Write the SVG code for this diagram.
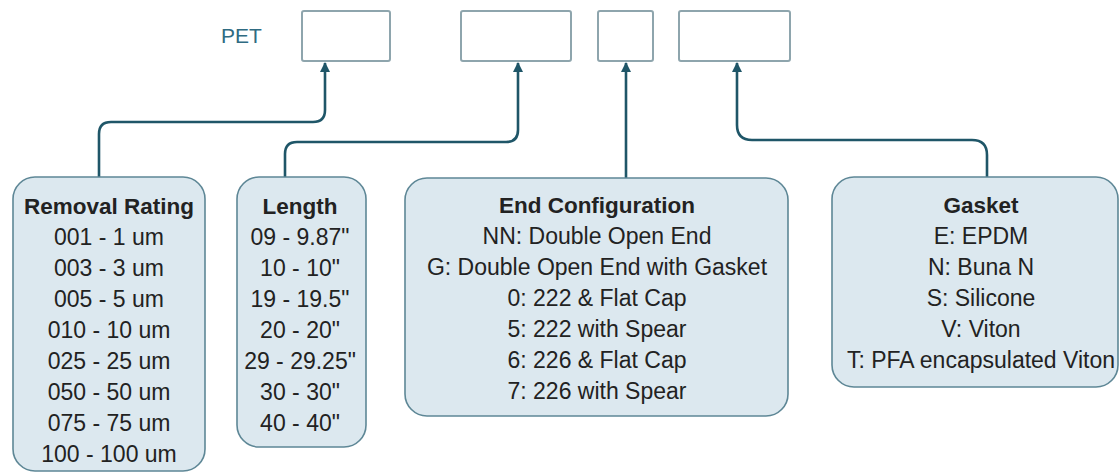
<svg xmlns="http://www.w3.org/2000/svg" width="1120" height="473" viewBox="0 0 1120 473">
<style>
.slot{fill:#ffffff;stroke:#8ea5ad;stroke-width:2}
.node{fill:#dce8ef;stroke:#5e8796;stroke-width:1.6}
.t{font-family:"Liberation Sans",Arial,sans-serif;font-size:23px;fill:#222;text-anchor:middle}
.h{font-weight:bold;font-size:22.5px}
.pet{font-family:"Liberation Sans",Arial,sans-serif;font-size:21px;fill:#2f6b82}
.conn{fill:none;stroke:#1f5668;stroke-width:2.6;marker-end:url(#ah)}
</style>
<defs>
<marker id="ah" viewBox="0 0 10 10" refX="9" refY="5" markerWidth="10" markerHeight="10" markerUnits="userSpaceOnUse" orient="auto">
<path d="M0,0 L10,5 L0,10 z" fill="#1f5668"/>
</marker>
</defs>
<rect width="1120" height="473" fill="#ffffff"/>
<g id="code">
<text class="pet" x="221" y="43">PET</text>
<rect class="slot" x="302" y="11" width="88" height="50" rx="2"/>
<rect class="slot" x="461" y="11" width="110" height="50" rx="2"/>
<rect class="slot" x="598" y="11" width="55" height="50" rx="2"/>
<rect class="slot" x="679" y="11" width="111" height="50" rx="2"/>
</g>
<g id="connectors">
<path class="conn" d="M99,177 V134 Q99,122 111,122 H313 Q325,122 325,110 V63"/>
<path class="conn" d="M285,177 V154 Q285,142 297,142 H506 Q518,142 518,130 V63"/>
<path class="conn" d="M626,178 V63"/>
<path class="conn" d="M987,177 V155 Q987,140 972,140 H752 Q737,140 737,125 V63"/>
</g>
<g id="removal-rating">
<rect class="node" x="13" y="177" width="192" height="294" rx="22"/>
<text class="t h" x="109" y="214">Removal Rating</text>
<text class="t" x="109" y="245">001 - 1 um</text>
<text class="t" x="109" y="276">003 - 3 um</text>
<text class="t" x="109" y="307">005 - 5 um</text>
<text class="t" x="109" y="338">010 - 10 um</text>
<text class="t" x="109" y="369">025 - 25 um</text>
<text class="t" x="109" y="400">050 - 50 um</text>
<text class="t" x="109" y="431">075 - 75 um</text>
<text class="t" x="109" y="462">100 - 100 um</text>
</g>
<g id="length">
<rect class="node" x="237" y="177" width="129" height="270" rx="22"/>
<text class="t h" x="300" y="214">Length</text>
<text class="t" x="300" y="245">09 - 9.87"</text>
<text class="t" x="300" y="276">10 - 10"</text>
<text class="t" x="300" y="307">19 - 19.5"</text>
<text class="t" x="300" y="338">20 - 20"</text>
<text class="t" x="300" y="369">29 - 29.25"</text>
<text class="t" x="300" y="400">30 - 30"</text>
<text class="t" x="300" y="431">40 - 40"</text>
</g>
<g id="end-configuration">
<rect class="node" x="405" y="178" width="383" height="238" rx="22"/>
<text class="t h" x="597" y="213">End Configuration</text>
<text class="t" x="597" y="244">NN: Double Open End</text>
<text class="t" x="597" y="275">G: Double Open End with Gasket</text>
<text class="t" x="597" y="306">0: 222 &amp; Flat Cap</text>
<text class="t" x="597" y="337">5: 222 with Spear</text>
<text class="t" x="597" y="368">6: 226 &amp; Flat Cap</text>
<text class="t" x="597" y="399">7: 226 with Spear</text>
</g>
<g id="gasket">
<rect class="node" x="832" y="177" width="286" height="210" rx="22"/>
<text class="t h" x="981" y="213">Gasket</text>
<text class="t" x="981" y="244">E: EPDM</text>
<text class="t" x="981" y="275">N: Buna N</text>
<text class="t" x="981" y="306">S: Silicone</text>
<text class="t" x="981" y="337">V: Viton</text>
<text class="t" x="981" y="368">T: PFA encapsulated Viton</text>
</g>
</svg>
